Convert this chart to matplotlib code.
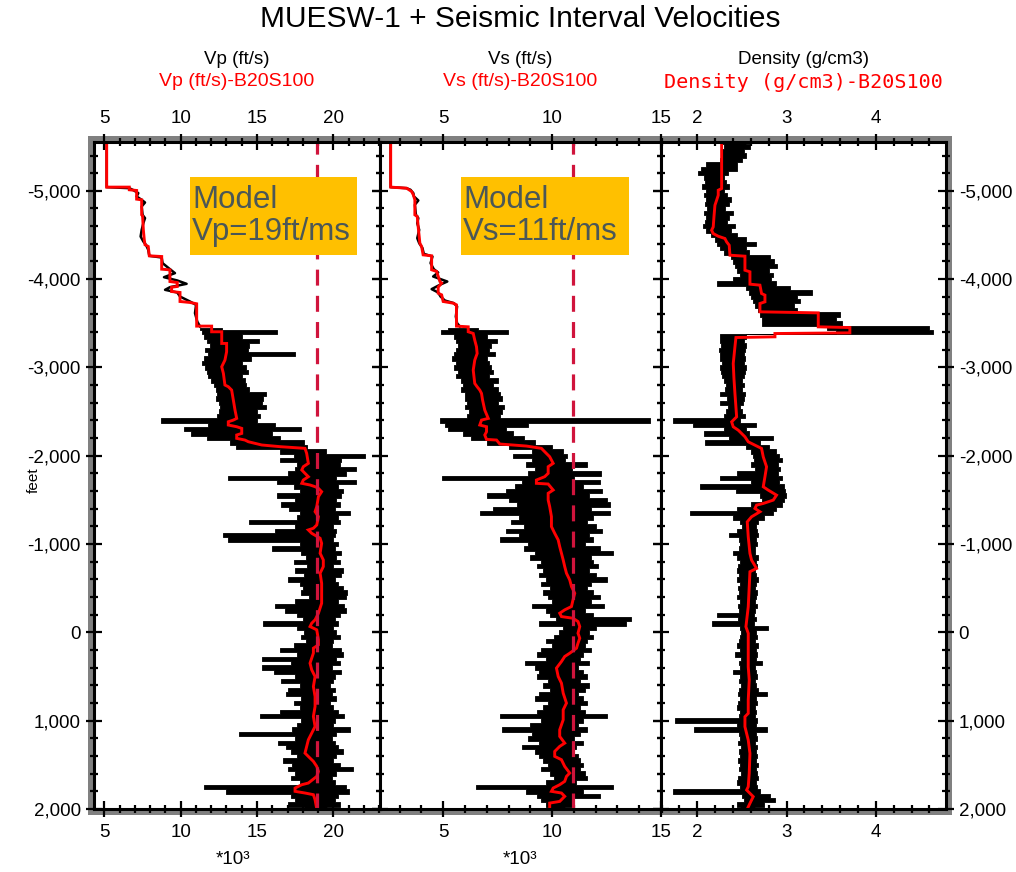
import numpy as np
import matplotlib
matplotlib.use("Agg")
import matplotlib.pyplot as plt
from matplotlib.patches import Rectangle
from matplotlib.ticker import MultipleLocator, FuncFormatter

plt.rcParams['font.family'] = ['Liberation Sans', 'DejaVu Sans']

# ---------------- data ----------------
# Blocked (B20S100) curves: (value, depth) vertices
vp_red_val = [5.16, 5.16, 6.64, 6.64, 7.12, 7.12, 7.45, 7.45, 7.51, 7.56, 7.62, 7.67, 7.88, 7.95, 8.76, 8.76,
              9.30, 9.30, 9.78, 9.78, 9.41, 9.41, 9.96, 9.96, 10.61, 11.05, 11.05, 12.03, 12.03, 12.69, 12.69,
              13.01, 13.01, 12.90, 12.69, 12.80, 12.90, 13.12, 13.34, 13.45, 13.56, 13.67, 13.45, 13.12, 13.12,
              13.67, 14.00, 14.00, 13.67, 13.67, 14.21, 14.43, 15.31, 16.51, 18.14, 18.25, 18.36, 18.03, 17.93,
              18.14, 18.36, 18.03, 17.93, 18.47, 18.80, 19.02, 19.23, 19.02, 18.91, 18.80, 19.02, 18.91, 18.69,
              18.36, 18.58, 19.13, 19.23, 19.13, 19.34, 19.34, 19.13, 19.23, 19.23, 19.23, 19.02, 18.80, 18.58,
              18.47, 18.91, 19.02, 19.02, 18.69, 18.69, 18.47, 18.58, 18.80, 18.69, 18.80, 18.80, 18.69, 18.80,
              18.58, 18.36, 18.25, 18.14, 18.36, 18.69, 18.91, 19.02, 18.91, 18.36, 17.93, 17.49, 17.49, 18.14,
              18.69, 18.80, 18.91]
vp_red_dep = [-5553, -5042, -5042, -5012, -5004, -4906, -4898, -4728, -4717, -4558, -4445, -4389, -4370, -4264,
              -4256, -4113, -4105, -3973, -3962, -3917, -3909, -3860, -3849, -3747, -3736, -3721, -3468, -3468,
              -3404, -3404, -3272, -3272, -3178, -3083, -3008, -2932, -2801, -2782, -2744, -2631, -2517, -2423,
              -2404, -2385, -2348, -2329, -2310, -2253, -2235, -2197, -2178, -2159, -2122, -2103, -2084, -2027,
              -1914, -1876, -1839, -1801, -1763, -1725, -1688, -1669, -1650, -1631, -1593, -1537, -1424, -1367,
              -1311, -1216, -1179, -1160, -1122, -1066, -1009, -896, -820, -745, -670, -556, -443, -330, -217,
              -142, -104, -66, -29, 85, 141, 179, 235, 349, 424, 500, 613, 726, 839, 952, 1065, 1141, 1216, 1292,
              1367, 1405, 1461, 1518, 1574, 1631, 1706, 1725, 1763, 1800, 1819, 1838, 1895, 2000]

vs_red_val = [2.59, 2.59, 3.32, 3.55, 3.63, 3.70, 3.70, 3.81, 3.86, 3.93, 4.01, 4.08, 4.47, 4.47, 4.70, 4.85,
              4.93, 4.77, 4.77, 4.93, 5.00, 5.46, 5.61, 5.61, 6.15, 6.15, 6.38, 6.45, 6.53, 6.56, 6.45, 6.38,
              6.45, 6.56, 6.68, 6.76, 6.81, 6.91, 7.07, 6.76, 6.68, 6.99, 6.99, 6.91, 6.99, 7.45, 7.60, 8.82,
              9.51, 9.66, 9.89, 10.05, 9.82, 9.82, 9.66, 9.28, 9.28, 9.82, 10.05, 9.82, 9.82, 9.89, 9.97, 9.97,
              10.12, 10.28, 10.35, 10.43, 10.51, 10.58, 10.66, 10.81, 10.89, 11.04, 10.96, 10.89, 10.58, 10.35,
              10.43, 10.96, 11.19, 11.27, 11.19, 11.27, 11.19, 11.12, 10.81, 10.58, 10.43, 10.20, 10.28, 10.43,
              10.51, 10.66, 10.51, 10.51, 10.35, 10.35, 10.58, 10.35, 10.12, 10.12, 10.43, 10.58, 10.81, 10.66,
              10.58, 10.35, 10.05, 9.97, 10.43, 10.58, 10.35, 9.89, 9.89]
vs_red_dep = [-5553, -5042, -5030, -4993, -4955, -4898, -4728, -4710, -4577, -4407, -4370, -4275, -4264, -4106,
              -4087, -3973, -3955, -3909, -3841, -3822, -3747, -3728, -3709, -3468, -3460, -3404, -3385, -3309,
              -3234, -3158, -3083, -2970, -2819, -2781, -2744, -2706, -2630, -2517, -2423, -2404, -2348, -2329,
              -2272, -2235, -2185, -2178, -2133, -2110, -2084, -2046, -1989, -1914, -1876, -1801, -1763, -1725,
              -1688, -1680, -1612, -1575, -1499, -1424, -1311, -1198, -1122, -1047, -971, -896, -820, -745, -670,
              -594, -519, -443, -368, -293, -255, -217, -179, -160, -123, -66, 9, 66, 122, 179, 236, 273, 330, 405,
              499, 575, 688, 801, 877, 990, 1103, 1178, 1254, 1291, 1348, 1404, 1442, 1518, 1593, 1631, 1687,
              1725, 1763, 1800, 1819, 1857, 1914, 1933, 2000]

rho_red_val = [2.273, 2.273, 2.235, 2.235, 2.217, 2.198, 2.187, 2.179, 2.161, 2.179, 2.235, 2.310, 2.329, 2.358,
               2.366, 2.534, 2.534, 2.590, 2.590, 2.702, 2.720, 2.758, 2.758, 2.702, 2.702, 3.355, 3.355, 3.709,
               3.709, 2.870, 2.870, 2.433, 2.422, 2.403, 2.411, 2.422, 2.441, 2.385, 2.403, 2.459, 2.534, 2.571,
               2.646, 2.720, 2.739, 2.776, 2.758, 2.739, 2.795, 2.888, 2.851, 2.739, 2.664, 2.646, 2.702, 2.608,
               2.560, 2.571, 2.590, 2.608, 2.664, 2.590, 2.582, 2.571, 2.545, 2.571, 2.571, 2.571, 2.582, 2.571,
               2.571, 2.534, 2.534, 2.571, 2.590, 2.582, 2.571, 2.553, 2.627, 2.590, 2.560]
rho_red_dep = [-5553, -5026, -5007, -4950, -4894, -4837, -4705, -4592, -4554, -4516, -4486, -4460, -4422, -4384,
               -4271, -4260, -4101, -4083, -3943, -3932, -3837, -3819, -3743, -3724, -3630, -3618, -3460, -3452,
               -3392, -3384, -3347, -3339, -3234, -3045, -2875, -2705, -2441, -2384, -2328, -2290, -2215, -2158,
               -2120, -2083, -1988, -1875, -1762, -1649, -1611, -1554, -1498, -1460, -1441, -1403, -1366, -1309,
               -1252, -1083, -894, -819, -724, -687, -517, -290, -64, 11, 162, 389, 540, 766, 917, 955, 1068, 1219,
               1370, 1596, 1747, 1785, 1860, 1936, 2000]

# Raw log, shallow part (thin trace)
vp_log_top_val = [5.16, 5.16, 6.64, 6.86, 7.23, 7.12, 7.45, 7.67, 7.45, 7.51, 7.67, 7.56, 7.45, 7.38, 7.56, 7.73,
                  7.88, 7.95, 8.76, 8.82, 9.30, 9.63, 8.91, 9.78, 10.39, 9.30, 8.98, 9.78, 9.96, 10.61, 11.01,
                  10.94, 11.09, 11.27]
vp_log_top_dep = [-5540, -5042, -5030, -5012, -4974, -4936, -4898, -4868, -4823, -4728, -4691, -4634, -4558, -4483,
                  -4426, -4389, -4332, -4264, -4245, -4181, -4113, -4068, -4022, -3985, -3947, -3909, -3879, -3849,
                  -3803, -3747, -3709, -3615, -3520, -3464]
vs_log_top_val = [2.59, 2.59, 3.32, 3.50, 3.63, 3.66, 3.86, 3.70, 3.75, 3.86, 3.81, 3.90, 3.81, 3.90, 4.05, 4.11,
                  4.51, 4.42, 4.57, 4.77, 4.54, 5.19, 4.85, 4.47, 4.77, 4.88, 5.08, 5.49, 5.64, 5.58, 5.64, 5.77]
vs_log_top_dep = [-5540, -5042, -5030, -5012, -4974, -4936, -4891, -4842, -4728, -4691, -4634, -4558, -4464, -4407,
                  -4351, -4287, -4256, -4181, -4113, -4075, -4030, -3973, -3936, -3887, -3849, -3803, -3758, -3728,
                  -3690, -3577, -3501, -3464]

# Raw log, noisy part: left / right envelope every 50 ft
vp_env_top = -3450
vp_env_left = [11.3, 11.4, 11.5, 11.7, 11.9, 11.6, 11.8, 11.5, 11.4, 11.6,
               11.7, 11.8, 12.0, 12.2, 12.3, 12.4, 12.3, 12.5, 12.6, 12.5,
               12.4, 8.7, 11.8, 10.2, 10.7, 11.7, 13.2, 13.6, 16.5, 17.4,
               16.5, 17.6, 17.5, 17.0, 13.1, 16.3, 17.4, 17.8, 16.3, 17.5,
               16.6, 17.1, 17.8, 17.6, 14.5, 17.5, 16.2, 12.8, 13.1, 17.8,
               16.0, 17.9, 18.2, 17.4, 18.3, 17.5, 18.1, 17.0, 17.8, 18.0,
               17.9, 18.4, 17.5, 16.2, 16.8, 17.6, 18.0, 15.4, 17.6, 18.1,
               17.9, 18.2, 17.4, 16.5, 17.6, 15.3, 17.2, 15.3, 16.1, 17.5,
               16.6, 17.8, 17.0, 16.9, 17.9, 17.4, 17.8, 16.5, 15.2, 17.9,
               17.6, 17.3, 13.8, 17.5, 16.4, 16.9, 17.2, 17.6, 16.7, 17.3,
               17.0, 17.5, 17.2, 17.8, 11.5, 13.0, 17.2, 17.5, 17.0, 18.1]
vp_env_right = [12.7, 16.3, 14.0, 15.1, 14.5, 14.4, 17.5, 14.6, 14.0, 14.3,
                14.4, 14.0, 14.2, 14.3, 14.5, 15.6, 15.4, 15.3, 15.6, 15.0,
                15.2, 15.0, 16.2, 17.9, 16.0, 16.5, 18.1, 18.3, 19.5, 22.1,
                20.5, 20.4, 21.5, 20.8, 20.2, 21.5, 20.3, 20.6, 20.5, 20.2,
                20.4, 20.1, 21.1, 20.3, 20.4, 20.0, 20.2, 20.1, 20.0, 20.3,
                20.1, 20.5, 20.2, 20.4, 20.0, 20.6, 20.5, 20.1, 20.3, 20.6,
                20.9, 20.8, 20.3, 20.7, 20.8, 20.4, 20.1, 20.3, 20.0, 20.2,
                20.4, 20.0, 19.9, 20.5, 20.6, 20.2, 20.4, 19.9, 20.5, 20.1,
                20.0, 19.8, 20.1, 19.9, 20.2, 19.8, 20.0, 20.3, 20.7, 20.1,
                20.0, 21.1, 20.2, 19.9, 20.1, 20.3, 20.6, 20.2, 20.0, 20.4,
                21.3, 20.2, 19.9, 20.1, 20.8, 21.0, 20.3, 20.1, 20.4, 19.6]

vs_env_top = -3450
vs_env_left = [5.2, 4.9, 5.5, 5.6, 5.7, 5.6, 5.5, 5.4, 5.6, 5.5,
               5.7, 5.6, 5.8, 5.9, 5.8, 6.0, 6.0, 6.1, 6.0, 6.2,
               6.1, 4.85, 5.1, 5.2, 5.9, 6.3, 7.0, 8.0, 9.1, 8.2,
               9.1, 8.8, 9.2, 8.9, 4.93, 8.6, 8.3, 7.9, 7.0, 8.0,
               8.4, 7.3, 6.68, 8.5, 8.1, 8.7, 7.9, 8.5, 7.6, 8.9,
               8.7, 9.2, 9.0, 9.5, 9.3, 9.6, 9.4, 9.7, 9.5, 9.9,
               9.6, 9.8, 10.0, 9.1, 9.7, 9.9, 10.2, 9.4, 10.5, 10.3,
               10.1, 9.7, 10.0, 9.5, 9.3, 9.7, 8.75, 9.2, 9.4, 9.3,
               9.8, 9.6, 9.9, 9.4, 9.2, 9.8, 9.6, 9.3, 7.6, 9.5,
               9.0, 7.68, 9.1, 8.9, 9.4, 8.6, 9.2, 9.4, 9.6, 9.8,
               9.5, 9.9, 10.1, 9.7, 6.53, 8.8, 9.3, 9.5, 9.7, 9.8]
vs_env_right = [6.6, 7.98, 7.0, 7.45, 7.2, 7.1, 7.4, 7.0, 7.1, 7.2,
                7.3, 7.1, 7.5, 7.3, 7.5, 7.6, 7.7, 7.5, 7.8, 7.7,
                7.6, 14.48, 8.9, 7.9, 8.2, 8.7, 9.2, 10.0, 10.5, 10.7,
                10.6, 11.6, 10.9, 12.26, 11.0, 12.2, 11.4, 12.3, 11.7, 12.5,
                12.65, 11.8, 12.65, 11.9, 11.6, 12.0, 12.3, 11.7, 11.9, 11.5,
                12.2, 12.8, 11.8, 11.9, 12.1, 11.7, 12.0, 12.5, 11.8, 11.6,
                11.9, 12.2, 11.8, 12.4, 11.5, 11.9, 13.64, 13.4, 12.0, 11.7,
                11.9, 11.6, 11.5, 11.8, 11.4, 11.3, 11.7, 11.2, 11.4, 11.6,
                11.3, 11.7, 11.5, 11.2, 11.4, 11.6, 11.3, 11.5, 12.5, 11.4,
                11.2, 11.6, 11.3, 11.0, 11.4, 11.1, 10.9, 11.2, 11.3, 11.4,
                11.3, 11.5, 11.6, 11.1, 12.8, 11.4, 12.2, 11.0, 10.9, 10.6]

rho_env_top = -5550
rho_env_left = [2.28, 2.30, 2.27, 2.28, 2.25, 2.10, 2.04, 2.01, 2.07, 2.09,
                2.05, 2.10, 2.08, 2.10, 2.09, 2.11, 2.07, 2.10, 2.09, 2.06,
                2.10, 2.15, 2.20, 2.22, 2.25, 2.30, 2.38, 2.40, 2.42, 2.45,
                2.48, 2.40, 2.22, 2.55, 2.58, 2.60, 2.62, 2.65, 2.68, 2.70,
                2.72, 2.72, 3.45, 3.55, 2.25, 2.25, 2.27, 2.24, 2.26, 2.25,
                2.28, 2.26, 2.27, 2.28, 2.30, 2.32, 2.31, 2.26, 2.33, 2.25,
                2.34, 2.32, 2.30, 1.73, 1.95, 2.30, 2.07, 2.35, 2.09, 2.55,
                2.60, 2.62, 2.64, 2.60, 2.65, 2.45, 2.25, 2.60, 2.03, 2.43,
                2.70, 2.72, 2.60, 2.45, 1.92, 2.40, 2.48, 2.50, 2.45, 2.35,
                2.47, 2.48, 2.47, 2.40, 2.45, 2.48, 2.46, 2.44, 2.47, 2.45,
                2.48, 2.46, 2.47, 2.45, 2.48, 2.46, 2.47, 2.22, 2.46, 2.16,
                2.48, 2.49, 2.48, 2.47, 2.44, 2.48, 2.42, 2.49, 2.47, 2.48,
                2.40, 2.48, 2.47, 2.49, 2.47, 2.46, 2.48, 2.46, 2.44, 2.48,
                2.47, 1.75, 2.45, 1.96, 2.47, 2.48, 2.46, 2.49, 2.47, 2.48,
                2.46, 2.48, 2.47, 2.49, 2.46, 2.45, 2.48, 1.73, 2.50, 2.52,
                2.45, 2.48]
rho_env_right = [2.55, 2.59, 2.52, 2.55, 2.50, 2.45, 2.44, 2.34, 2.30, 2.32,
                 2.35, 2.30, 2.33, 2.38, 2.35, 2.31, 2.40, 2.36, 2.33, 2.42,
                 2.38, 2.45, 2.55, 2.66, 2.55, 2.58, 2.82, 2.86, 2.89, 2.80,
                 2.85, 2.83, 2.88, 3.04, 3.28, 3.12, 3.15, 3.08, 3.12, 3.60,
                 3.55, 3.62, 4.60, 4.64, 2.55, 2.52, 2.55, 2.53, 2.52, 2.54,
                 2.52, 2.55, 2.53, 2.52, 2.50, 2.52, 2.50, 2.53, 2.52, 2.51,
                 2.48, 2.50, 2.53, 2.48, 2.66, 2.55, 2.58, 2.85, 2.70, 2.80,
                 2.88, 2.92, 2.95, 2.90, 2.93, 2.90, 2.95, 2.92, 2.97, 2.98,
                 2.99, 2.97, 2.95, 2.88, 2.85, 2.75, 2.68, 2.66, 2.67, 2.68,
                 2.66, 2.67, 2.65, 2.65, 2.68, 2.66, 2.67, 2.65, 2.66, 2.68,
                 2.66, 2.65, 2.67, 2.66, 2.65, 2.67, 2.65, 2.64, 2.66, 2.64,
                 2.79, 2.66, 2.67, 2.65, 2.68, 2.66, 2.67, 2.66, 2.72, 2.65,
                 2.66, 2.67, 2.65, 2.66, 2.68, 2.78, 2.66, 2.67, 2.65, 2.66,
                 2.65, 2.67, 2.66, 2.78, 2.66, 2.67, 2.65, 2.67, 2.66, 2.67,
                 2.66, 2.68, 2.66, 2.67, 2.68, 2.66, 2.67, 2.70, 2.82, 2.87,
                 2.75, 2.65]
env_step = 50

model_vp = 18.9   # ft/ms (x10^3 ft/s)
model_vs = 10.96

x_limits = [(4.33, 23.05), (2.1, 15.0), (1.594, 4.78)]
y_limits = (2000, -5553)
x_major = [5, 5, 1]
x_minor = [1, 1, 0.2]
top_black = ["Vp (ft/s)", "Vs (ft/s)", "Density (g/cm3)"]
top_red = ["Vp (ft/s)-B20S100", "Vs (ft/s)-B20S100", "Density (g/cm3)-B20S100"]

# ---------------- figure ----------------
W, H = 1016, 872
fig = plt.figure(figsize=(W / 100, H / 100), dpi=100)


def fx(px):
    return px / W


def fy(py):
    return 1 - py / H


left_px = [94, 380, 661]
right_px = [380, 661, 945.5]
top_px, bot_px = 142, 809
axes = []
for i in range(3):
    ax = fig.add_axes([fx(left_px[i]), fy(bot_px), (right_px[i] - left_px[i]) / W, (bot_px - top_px) / H])
    axes.append(ax)

# gray frame behind
frame = Rectangle((fx(88), fy(815)), fx(952) - fx(88), fy(136) - fy(815), transform=fig.transFigure,
                  facecolor='#808080', edgecolor='none', zorder=-5)
fig.patches.append(frame)

env_sets = [(vp_env_top, vp_env_left, vp_env_right), (vs_env_top, vs_env_left, vs_env_right),
            (rho_env_top, rho_env_left, rho_env_right)]
red_sets = [(vp_red_val, vp_red_dep), (vs_red_val, vs_red_dep), (rho_red_val, rho_red_dep)]
top_sets = [(vp_log_top_val, vp_log_top_dep), (vs_log_top_val, vs_log_top_dep), None]

for i, ax in enumerate(axes):
    top, lft, rgt = env_sets[i]
    n = min(len(lft), len(rgt))
    dep = top + env_step * np.arange(n)
    ax.fill_betweenx(dep, np.array(lft[:n]), np.array(rgt[:n]), step='mid', color='black', lw=0.6,
                     edgecolor='black', zorder=2)
    if top_sets[i] is not None:
        ax.plot(top_sets[i][0], top_sets[i][1], color='black', lw=1.8, zorder=2)
    ax.plot(red_sets[i][0], red_sets[i][1], color='#FF0000', lw=2.1, zorder=3, solid_joinstyle='miter')
    ax.set_xlim(*x_limits[i])
    ax.set_ylim(*y_limits)
    ax.xaxis.set_major_locator(MultipleLocator(x_major[i]))
    ax.xaxis.set_minor_locator(MultipleLocator(x_minor[i]))
    ax.yaxis.set_major_locator(MultipleLocator(1000))
    ax.yaxis.set_minor_locator(MultipleLocator(200))
    ax.yaxis.set_major_formatter(FuncFormatter(lambda v, p: f"{int(round(v)):,}"))
    ax.xaxis.set_major_formatter(FuncFormatter(lambda v, p: f"{v:g}"))
    for s in ax.spines.values():
        s.set_linewidth(2.2)
        s.set_zorder(5)
    ax.tick_params(which='both', direction='inout', top=True, bottom=True, left=True, right=True,
                   width=1.6, color='black')
    ax.tick_params(which='major', length=11)
    ax.tick_params(which='minor', length=6)
    ax.tick_params(axis='x', labeltop=True, labelbottom=True, labelsize=13.5, pad=5)
    ax.tick_params(axis='y', labelleft=False, labelright=False, labelsize=13.5, pad=4)
    ax.set_facecolor('white')

axes[0].tick_params(axis='y', labelleft=True)
axes[2].tick_params(axis='y', labelright=True)

# model lines
for ax, val in [(axes[0], model_vp), (axes[1], model_vs)]:
    ax.axvline(val, color='#D0143C', lw=2.3, dashes=(5.0, 3.2), zorder=4)

# model boxes
for (x0, x1, txt) in [(190, 357, "Model\nVp=19ft/ms"), (461, 629, "Model\nVs=11ft/ms")]:
    fig.patches.append(Rectangle((fx(x0), fy(255)), fx(x1) - fx(x0), fy(177) - fy(255),
                                 transform=fig.transFigure, facecolor='#FFC000', edgecolor='none', zorder=10))
    fig.text(fx(x0 + 2), fy(216), txt, ha='left', va='center', fontsize=22.5, color='#4B5757',
             linespacing=1.08, zorder=11)

# labels
centers = [237, 520.5, 803]
for i in range(3):
    fig.text(fx(centers[i]), fy(59), top_black[i], ha='center', va='center', fontsize=13.5, color='black')
for i in range(2):
    fig.text(fx(centers[i]), fy(82), top_red[i], ha='center', va='center', fontsize=14, color='#FF0000')
fig.text(fx(centers[2]), fy(83), top_red[2], ha='center', va='center', fontsize=14.5, color='#FF0000',
         family='DejaVu Sans Mono')

fig.text(fx(520), fy(19), "MUESW-1 + Seismic Interval Velocities", ha='center', va='center', fontsize=21.5)
fig.text(fx(34), fy(480), "feet", rotation=90, ha='center', va='center', fontsize=11)
fig.text(fx(233), fy(859), "*10³", ha='center', va='center', fontsize=13.5)
fig.text(fx(520), fy(859), "*10³", ha='center', va='center', fontsize=13.5)

fig.savefig("out.png", dpi=100, facecolor='white')
